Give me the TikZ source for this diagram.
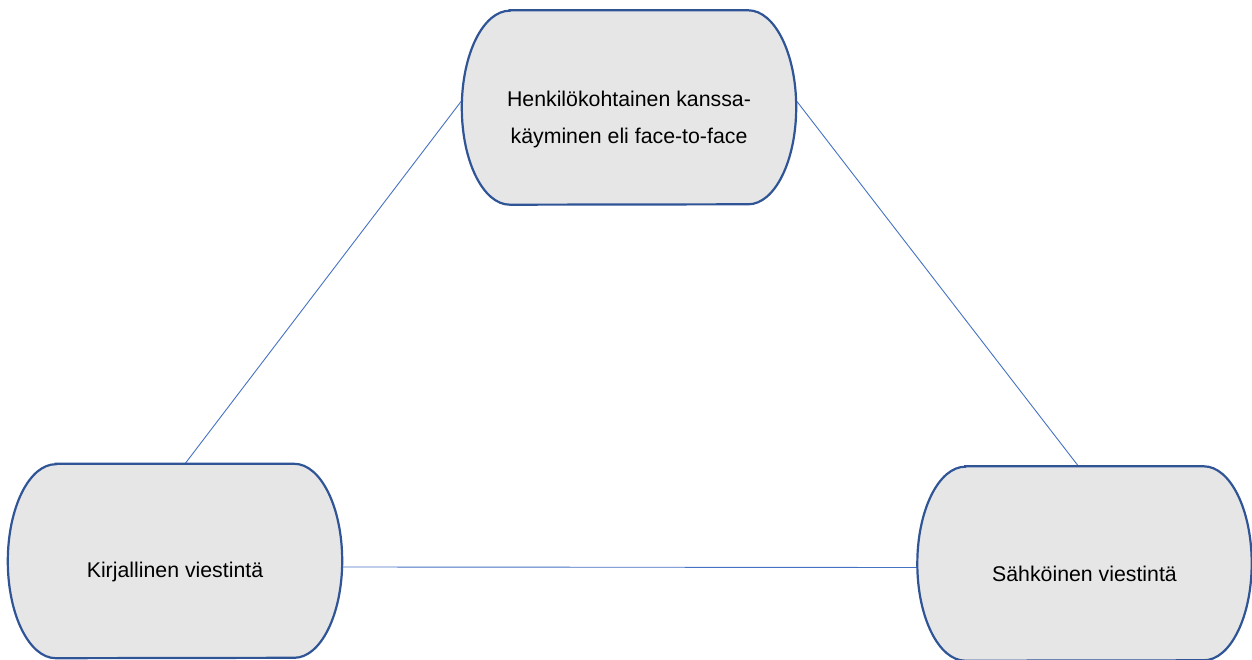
\documentclass[tikz,border=0pt]{standalone}
\usepackage{fontspec}
\setmainfont{Liberation Sans}
\definecolor{boxline}{HTML}{2F5597}
\definecolor{boxfill}{HTML}{E6E6E6}
\definecolor{conn}{HTML}{4472C4}
\newcommand\termoutline[1]{%
  \path[termline] ([xshift=48pt]#1.north west) -- ([xshift=-48pt]#1.north east)
    arc[start angle=90,end angle=-90,x radius=48pt,y radius=97pt]
    -- ([xshift=48pt]#1.south west)
    arc[start angle=270,end angle=90,x radius=48pt,y radius=97pt] -- cycle;}
\begin{document}
\begin{tikzpicture}[x=1pt,y=1pt,
  termbox/.style={shape=rectangle,draw=none,inner sep=0pt,minimum width=334pt,minimum height=194pt},
  termline/.style={draw=boxline,fill=boxfill,line width=2.2pt},
  termtext/.style={font=\fontsize{21.3pt}{37pt}\selectfont,align=center,inner sep=0pt},
  link/.style={draw=conn,line width=0.9pt}]
\useasboundingbox (0,0) rectangle (1252,659);
\node[termbox] (top) at (629,551.5) {};
\node[termbox] (left) at (175,98) {};
\node[termbox] (right) at (1084.5,95.5) {};
\draw[link] ([yshift=7pt]top.west) -- ([xshift=10pt]left.north);
\draw[link] ([yshift=7pt]top.east) -- ([xshift=-6pt]right.north);
\draw[link] ([yshift=-6pt]left.east) -- ([yshift=-4pt]right.west);
\termoutline{top}
\termoutline{left}
\termoutline{right}
\node[termtext] (toplabel) at ([yshift=-12pt]top.center) {Henkilökohtainen kanssa-\\käyminen eli face-to-face};
\node[termtext] (leftlabel) at ([yshift=-11pt]left.center) {Kirjallinen viestintä};
\node[termtext] (rightlabel) at ([yshift=-10pt]right.center) {Sähköinen viestintä};
\end{tikzpicture}
\end{document}
